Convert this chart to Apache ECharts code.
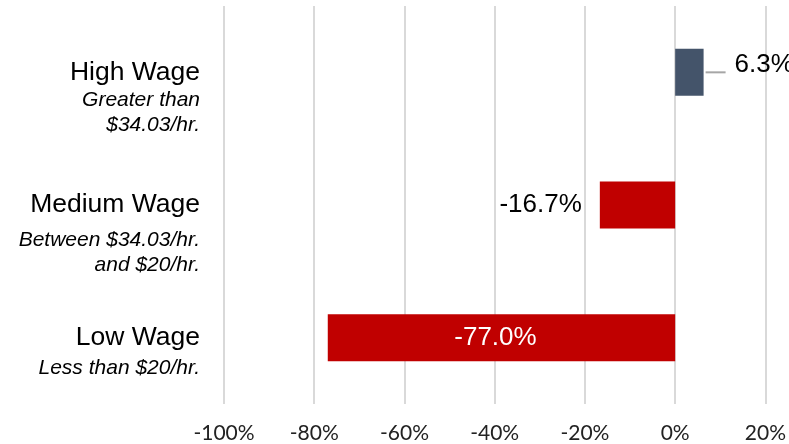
<!DOCTYPE html>
<html>
<head>
<meta charset="utf-8">
<script src="https://cdn.jsdelivr.net/npm/echarts@6/dist/echarts.min.js"></script>
<style>
html,body{margin:0;padding:0;background:#fff;}
#chart{width:789px;height:444px;}
</style>
</head>
<body>
<div id="chart"></div>
<script>
const categories = ['High Wage', 'Medium Wage', 'Low Wage'];
const subtitles = [['Greater than', '$34.03/hr.'], ['Between $34.03/hr.', 'and $20/hr.'], ['Less than $20/hr.']];
const values = [6.3, -16.7, -77.0];
const valueLabels = ['6.3%', '-16.7%', '-77.0%'];
const xMin = -100, xMax = 20, xStep = 20;

const barColors = ['#44546A', '#C00000', '#C00000'];
const titleStyles = ['tA', 'tB', 'tC'];
const spacerStyles = ['sp50', 'sp50', 'sp25'];

const chart = echarts.init(document.getElementById('chart'), null, {renderer: 'canvas'});

const titleBase = {fontFamily: 'Liberation Sans, Arial, sans-serif', fontSize: 26.5, color: '#000'};
const subBase = {fontFamily: 'Liberation Sans, Arial, sans-serif', fontSize: 21, fontStyle: 'italic', color: '#000', lineHeight: 25};

const option = {
  animation: false,
  grid: {left: 224, right: 17, top: 6, bottom: 40, containLabel: false},
  xAxis: {
    type: 'value', min: xMin, max: xMax, interval: xStep,
    axisLine: {show: false}, axisTick: {show: false},
    splitLine: {show: true, lineStyle: {color: '#d9d9d9', width: 2}},
    axisLabel: {formatter: '{value}%', fontFamily: 'Lato, Carlito, sans-serif', fontSize: 21, color: '#222', margin: 19}
  },
  yAxis: {
    type: 'category', data: categories, inverse: true,
    axisLine: {show: false}, axisTick: {show: false}, splitLine: {show: false},
    axisLabel: {
      interval: 0, margin: 24, align: 'right',
      formatter: function (val) {
        const i = categories.indexOf(val);
        const lines = ['{' + spacerStyles[i] + '| }', '{' + titleStyles[i] + '|' + val + '}'];
        subtitles[i].forEach(s => lines.push('{s|' + s + '}'));
        return lines.join('\n');
      },
      rich: {
        sp50: {lineHeight: 50, fontSize: 10},
        sp25: {lineHeight: 25, fontSize: 10},
        tA: Object.assign({lineHeight: 31}, titleBase),
        tB: Object.assign({lineHeight: 45}, titleBase),
        tC: Object.assign({lineHeight: 35}, titleBase),
        s: subBase
      }
    }
  },
  series: [{
    type: 'bar',
    barWidth: 47,
    data: values.map((v, i) => {
      const item = {value: v, itemStyle: {color: barColors[i]}};
      if (i === 0) {
        item.label = {
          show: true, position: 'right', distance: 2,
          formatter: '{ln| }{t|' + valueLabels[i] + '}',
          rich: {
            ln: {width: 20, height: 2, backgroundColor: '#a6a6a6', fontSize: 1, lineHeight: 2},
            t: {fontFamily: 'Liberation Sans, Arial, sans-serif', fontSize: 26, color: '#000', padding: [0, 0, 16, 9]}
          }
        };
      } else if (i === 1) {
        item.label = {
          show: true, position: 'left', distance: 18, formatter: valueLabels[i],
          fontFamily: 'Liberation Sans, Arial, sans-serif', fontSize: 26, color: '#000'
        };
      } else {
        item.label = {
          show: true, position: 'inside', formatter: valueLabels[i], offset: [-6, 0],
          fontFamily: 'Liberation Sans, Arial, sans-serif', fontSize: 26, color: '#fff'
        };
      }
      return item;
    })
  }]
};
chart.setOption(option);
</script>
</body>
</html>
